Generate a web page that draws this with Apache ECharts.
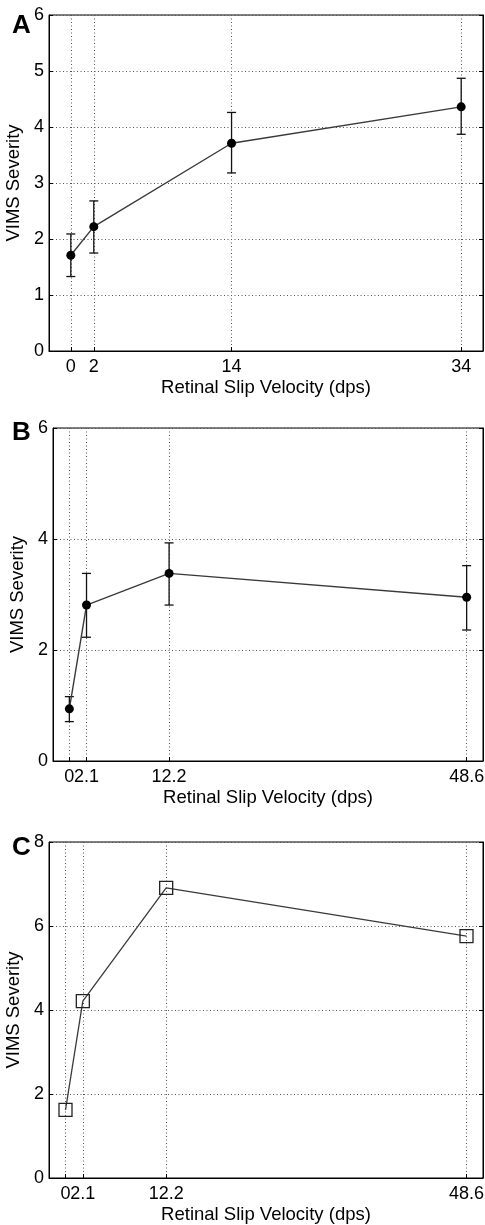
<!DOCTYPE html>
<html>
<head>
<meta charset="utf-8">
<script src="https://cdn.jsdelivr.net/npm/echarts@6/dist/echarts.min.js"></script>
<style>
  html, body { margin: 0; padding: 0; background: #fff; }
  #chart { width: 485px; height: 1225px; }
</style>
</head>
<body>
<div id="chart"></div>
<script>
// panel A
var velA = [0, 2, 14, 34];
var sevA = [1.71, 2.22, 3.71, 4.36];
var lowA = [1.33, 1.75, 3.18, 3.87];
var highA = [2.09, 2.68, 4.26, 4.87];
// panel B
var velB = [0, 2.1, 12.2, 48.6];
var sevB = [0.94, 2.81, 3.38, 2.95];
var lowB = [0.71, 2.23, 2.81, 2.36];
var highB = [1.16, 3.38, 3.93, 3.52];
// panel C
var velC = [0, 2.1, 12.2, 48.6];
var sevC = [1.62, 4.21, 6.91, 5.76];

var panelLetters = ['A', 'B', 'C'];
var xTitle = 'Retinal Slip Velocity (dps)';
var yTitle = 'VIMS Severity';

var font = 'Liberation Sans, Arial, Helvetica, sans-serif';
var dotted = { color: '#555', width: 1, type: [1, 2.5] };

function pairs(xs, ys) {
  return xs.map(function (x, i) { return [x, ys[i]]; });
}
function bars(xs, lo, hi) {
  return xs.map(function (x, i) { return [x, lo[i], hi[i]]; });
}

// main x axis: all ticks + grid lines, labels except the first one
function xAx(idx, ticks, min, max) {
  return {
    type: 'value', gridIndex: idx, position: 'bottom', min: min, max: max,
    name: xTitle, nameLocation: 'middle', nameGap: 27,
    nameTextStyle: { fontFamily: font, fontSize: 18.5, color: '#000' },
    axisLine: { show: true, onZero: false, lineStyle: { color: '#000', width: 1 } },
    axisTick: { show: true, inside: true, length: 4, customValues: ticks, lineStyle: { color: '#000' } },
    axisLabel: {
      customValues: ticks.slice(1), hideOverlap: false, showMinLabel: true, showMaxLabel: true,
      margin: 7, fontFamily: font, fontSize: 18, color: '#000'
    },
    splitLine: { show: true, lineStyle: dotted }
  };
}
// helper axis that only carries the first label (it sits on top of its neighbour)
function xFirst(idx, ticks, min, max) {
  return {
    type: 'value', gridIndex: idx, position: 'bottom', min: min, max: max,
    axisLine: { show: false, onZero: false },
    axisTick: { show: false },
    axisLabel: {
      customValues: ticks.slice(0, 1), showMinLabel: true, showMaxLabel: true,
      margin: 7, fontFamily: font, fontSize: 18, color: '#000'
    },
    splitLine: { show: false }
  };
}
function yAx(idx, max, step) {
  return {
    type: 'value', gridIndex: idx, min: 0, max: max, interval: step,
    name: yTitle, nameLocation: 'middle', nameGap: 21,
    nameTextStyle: { fontFamily: font, fontSize: 18.5, color: '#000' },
    axisLine: { show: true, onZero: false, lineStyle: { color: '#000', width: 1 } },
    axisTick: { show: true, inside: true, length: 4, lineStyle: { color: '#000' } },
    axisLabel: { margin: 5, showMinLabel: true, showMaxLabel: true, fontFamily: font, fontSize: 18, color: '#000' },
    splitLine: { show: true, lineStyle: dotted }
  };
}
function yRight(idx, max, step) {
  return {
    type: 'value', gridIndex: idx, position: 'right', min: 0, max: max, interval: step,
    axisLine: { show: true, onZero: false, lineStyle: { color: '#000', width: 1 } },
    axisTick: { show: true, inside: true, length: 4, lineStyle: { color: '#000' } },
    axisLabel: { show: false },
    splitLine: { show: false }
  };
}

function errorBars(idx, data) {
  return {
    type: 'custom', xAxisIndex: idx, yAxisIndex: idx, z: 3,
    data: data,
    renderItem: function (params, api) {
      var top = api.coord([api.value(0), api.value(2)]);
      var bot = api.coord([api.value(0), api.value(1)]);
      var w = 4.5;
      var st = { stroke: '#111', lineWidth: 1.3 };
      return {
        type: 'group',
        children: [
          { type: 'line', shape: { x1: top[0], y1: top[1], x2: bot[0], y2: bot[1] }, style: st },
          { type: 'line', shape: { x1: top[0] - w, y1: top[1], x2: top[0] + w, y2: top[1] }, style: st },
          { type: 'line', shape: { x1: bot[0] - w, y1: bot[1], x2: bot[0] + w, y2: bot[1] }, style: st }
        ]
      };
    }
  };
}

function grid(left, top, height) {
  return {
    left: left, top: top, right: 2, height: height,
    containLabel: false, outerBoundsMode: 'none',
    show: true, borderColor: '#000', borderWidth: 1
  };
}

var chart = echarts.init(document.getElementById('chart'));
var option = {
  backgroundColor: '#fff',
  animation: false,
  title: panelLetters.map(function (t, i) {
    return {
      text: t, left: 7, top: [8, 415, 830][i],
      textStyle: { fontFamily: font, fontSize: 26, fontWeight: 'bold', color: '#000' }
    };
  }),
  grid: [
    grid(49, 15, 336),
    grid(53, 428, 333),
    grid(49, 842, 336)
  ],
  xAxis: [
    xAx(0, velA, -1.9, 35.9),
    xAx(1, velB, -2, 50.6),
    xAx(2, velC, -2, 50.6),
    xFirst(0, velA, -1.9, 35.9),
    xFirst(1, velB, -2, 50.6),
    xFirst(2, velC, -2, 50.6)
  ],
  yAxis: [
    yAx(0, 6, 1), yAx(1, 6, 2), yAx(2, 8, 2),
    yRight(0, 6, 1), yRight(1, 6, 2), yRight(2, 8, 2)
  ],
  series: [
    errorBars(0, bars(velA, lowA, highA)),
    errorBars(1, bars(velB, lowB, highB)),
    {
      type: 'line', xAxisIndex: 0, yAxisIndex: 0, z: 4,
      data: pairs(velA, sevA),
      symbol: 'circle', symbolSize: 9,
      itemStyle: { color: '#000' },
      lineStyle: { color: '#3a3a3a', width: 1.4 }
    },
    {
      type: 'line', xAxisIndex: 1, yAxisIndex: 1, z: 4,
      data: pairs(velB, sevB),
      symbol: 'circle', symbolSize: 9,
      itemStyle: { color: '#000' },
      lineStyle: { color: '#3a3a3a', width: 1.4 }
    },
    {
      type: 'line', xAxisIndex: 2, yAxisIndex: 2, z: 4,
      data: pairs(velC, sevC),
      symbol: 'rect', symbolSize: 13,
      itemStyle: { color: 'rgba(255,255,255,0)', borderColor: '#222', borderWidth: 1.3 },
      lineStyle: { color: '#3a3a3a', width: 1.3 }
    }
  ]
};
chart.setOption(option);
</script>
</body>
</html>
